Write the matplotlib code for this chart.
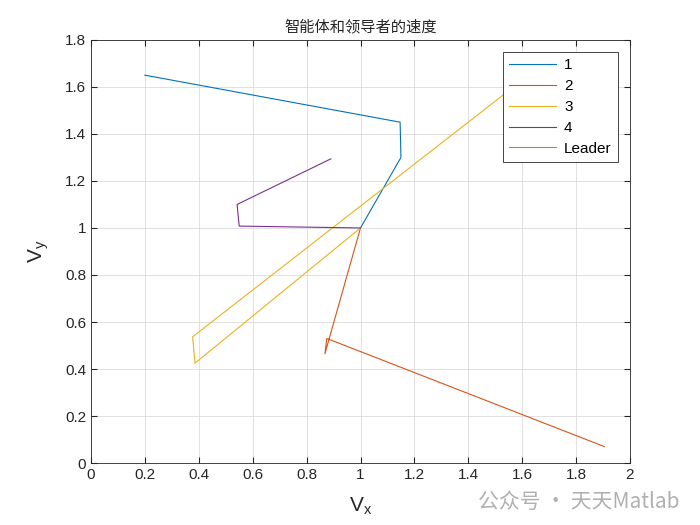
import matplotlib
matplotlib.use('Agg')
import matplotlib.pyplot as plt

plt.rcParams['font.family'] = ['Liberation Sans', 'Noto Sans CJK SC', 'DejaVu Sans']

# velocity trajectories (Vx, Vy)
vx1 = [0.20, 1.147, 1.15, 1.0]
vy1 = [1.65, 1.45, 1.30, 1.0]
vx2 = [1.905, 0.875, 0.868, 1.0]
vy2 = [0.07, 0.53, 0.465, 1.0]
vx3 = [1.68, 0.377, 0.386, 1.0]
vy3 = [1.70, 0.537, 0.425, 1.0]
vx4 = [0.89, 0.542, 0.55, 1.0]
vy4 = [1.294, 1.10, 1.008, 1.0]
vxL = [1.0, 1.0]
vyL = [1.0, 1.0]

names = ['1', '2', '3', '4', 'Leader']
colors = ['#0072BD', '#D95319', '#EDB120', '#7E2F8E', '#77AC30']

fig = plt.figure(figsize=(7, 5.25), dpi=100)
ax = fig.add_axes([0.13, 0.118, 0.77, 0.806])

series = [(vx1, vy1), (vx2, vy2), (vx3, vy3), (vx4, vy4), (vxL, vyL)]
for (x, y), c, n in zip(series, colors, names):
    ax.plot(x, y, color=c, lw=0.8, label=n)

ax.set_xlim(0, 2)
ax.set_ylim(0, 1.8)
ax.set_xticks([0, 0.2, 0.4, 0.6, 0.8, 1, 1.2, 1.4, 1.6, 1.8, 2])
ax.set_xticklabels(['0', '0.2', '0.4', '0.6', '0.8', '1', '1.2', '1.4', '1.6', '1.8', '2'])
ax.set_yticks([0, 0.2, 0.4, 0.6, 0.8, 1, 1.2, 1.4, 1.6, 1.8])
ax.set_yticklabels(['0', '0.2', '0.4', '0.6', '0.8', '1', '1.2', '1.4', '1.6', '1.8'])
ax.tick_params(direction='in', labelsize=11, length=4, top=True, right=True,
               labeltop=False, labelright=False, colors='#262626')
ax.grid(True, color='#dcdcdc', lw=0.6)
for s in ax.spines.values():
    s.set_color('#262626')
    s.set_linewidth(0.6)

ax.set_title('智能体和领导者的速度', fontsize=11, color='#262626',
             family=['Noto Sans CJK SC'])
ax.set_xlabel('$\\mathregular{V_x}$', fontsize=15, color='#262626', labelpad=10)
ax.set_ylabel('$\\mathregular{V_y}$', fontsize=15, color='#262626', labelpad=10)

leg = ax.legend(loc='upper right', fontsize=11, fancybox=False, framealpha=1,
                edgecolor='#262626', borderaxespad=0.8, handlelength=3.1,
                handletextpad=0.5, labelspacing=0.45, borderpad=0.4)
leg.get_frame().set_linewidth(0.6)

fig.text(0.97, 0.022, '公众号 · 天天Matlab', ha='right', va='bottom',
         fontsize=15, color='#b0b0b0', family=['Noto Sans CJK SC'])

fig.savefig('out.png', dpi=100)
